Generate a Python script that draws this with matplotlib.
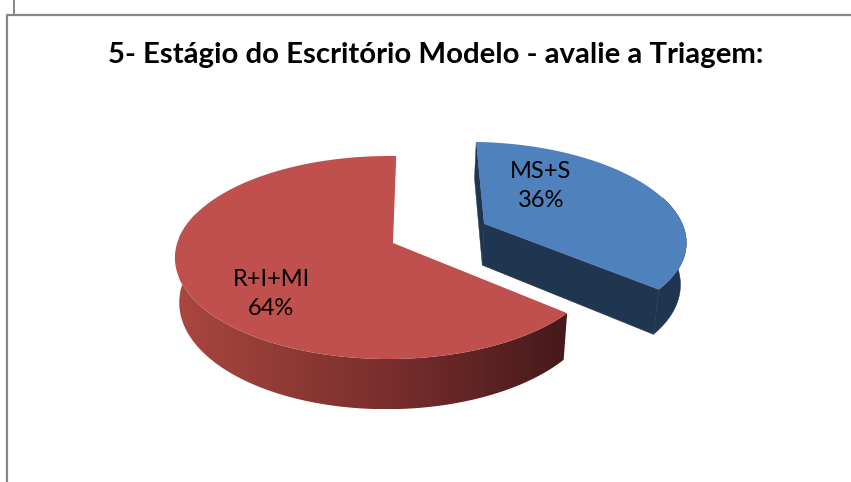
import numpy as np
import matplotlib

matplotlib.use("Agg")
import matplotlib.pyplot as plt
from matplotlib.colors import LinearSegmentedColormap
from matplotlib.patches import Polygon

plt.rcParams["font.family"] = ["Lato", "DejaVu Sans"]

TITLE = "5- Estágio do Escritório Modelo - avalie a Triagem:"
categories = ["MS+S", "R+I+MI"]
shares = [36, 64]
explode = [0.49, 0]

BLUE = "#4F81BD"
BLUE_SIDE = "#1F3550"
RED = "#C0504D"
RED_SIDE = ["#A9463F", "#7C302E", "#47191A"]
FRAME = "#868686"

# pie geometry in pixels
CX, CY = 393, 243
RX, RY = 211.5, 99.4
PERSP_Y = 0.143  # how much the back of the pie shrinks
PERSP_X = 0.02  # the right side is a bit further away too
DEPTH = 43
BOTTOM_SCALE = 0.98
START = 1  # degrees clockwise from the top


def project(x, y, bottom=False):
    # x, y are on the unit pie, y points to the back
    den = 1 + PERSP_Y * y + PERSP_X * x
    px = RX * x / den
    py = -RY * y / den
    if bottom:
        return CX + px * BOTTOM_SCALE, CY + py + DEPTH / den
    return CX + px, CY + py


def slice_arc(a0, a1, off):
    t = np.radians(np.linspace(a0, a1, 200))
    return np.sin(t) + off[0], np.cos(t) + off[1]


fig = plt.figure(figsize=(8.51, 4.82), dpi=100)
ax = fig.add_axes([0, 0, 1, 1])
ax.set_xlim(0, 851)
ax.set_ylim(482, 0)
ax.axis("off")

# outer frame of the chart
ax.plot([6.5, 6.5, 851], [482, 14.5, 14.5], color=FRAME, lw=1.6)
ax.plot([14, 14], [0, 14.5], color=FRAME, lw=1.4)

ax.text(436, 55, TITLE, ha="center", va="center", fontsize=21.2, weight="bold", color="black")

spans = np.array(shares) / sum(shares) * 360
starts = [START, START + spans[0]]

# red slice first, blue one after it
for i in [1, 0]:
    a0 = starts[i]
    a1 = a0 + spans[i]
    mid = np.radians((a0 + a1) / 2)
    off = (explode[i] * np.sin(mid), explode[i] * np.cos(mid))
    arc_x, arc_y = slice_arc(a0, a1, off)
    tx, ty = project(arc_x, arc_y)
    bx, by = project(arc_x, arc_y, bottom=True)
    ox, oy = project(off[0], off[1])
    obx, oby = project(off[0], off[1], bottom=True)

    # only the front part of the outer wall shows
    front = arc_y - off[1] < 0.3
    wx, wy = tx[front], ty[front]
    wbx, wby = bx[front], by[front]

    if i == 0:
        # cut walls and outer wall, all one dark colour
        side = dict(color=BLUE_SIDE, lw=0.3)
        ax.fill([ox, tx[0], bx[0], obx], [oy, ty[0], by[0], oby], **side)
        ax.fill([ox, tx[-1], bx[-1], obx], [oy, ty[-1], by[-1], oby], **side)
        ax.fill(np.r_[wx, wbx[::-1]], np.r_[wy, wby[::-1]], **side)
        face = BLUE
    else:
        # red outer wall gets a left to right shade
        wall = Polygon(np.c_[np.r_[wx, wbx[::-1]], np.r_[wy, wby[::-1]]], closed=True,
                       transform=ax.transData, fc="none", ec="none")
        ax.add_patch(wall)
        cmap = LinearSegmentedColormap.from_list("side", RED_SIDE)
        grad = np.linspace(0, 1, 256).reshape(1, -1)
        im = ax.imshow(grad, cmap=cmap, aspect="auto",
                       extent=[wbx.min(), wx.max(), wby.max(), wy.min()])
        im.set_clip_path(wall)
        face = RED

    ax.fill(np.r_[ox, tx], np.r_[oy, ty], color=face, lw=0)

ax.set_xlim(0, 851)
ax.set_ylim(482, 0)

# data labels
label_pos = [(541, 186), (271, 294)]
for name, val, (lx, ly) in zip(categories, shares, label_pos):
    ax.text(lx, ly, f"{name}\n{val}%", ha="center", va="center", fontsize=17,
            color="black", linespacing=1.45)

fig.savefig("out.png", dpi=100)
